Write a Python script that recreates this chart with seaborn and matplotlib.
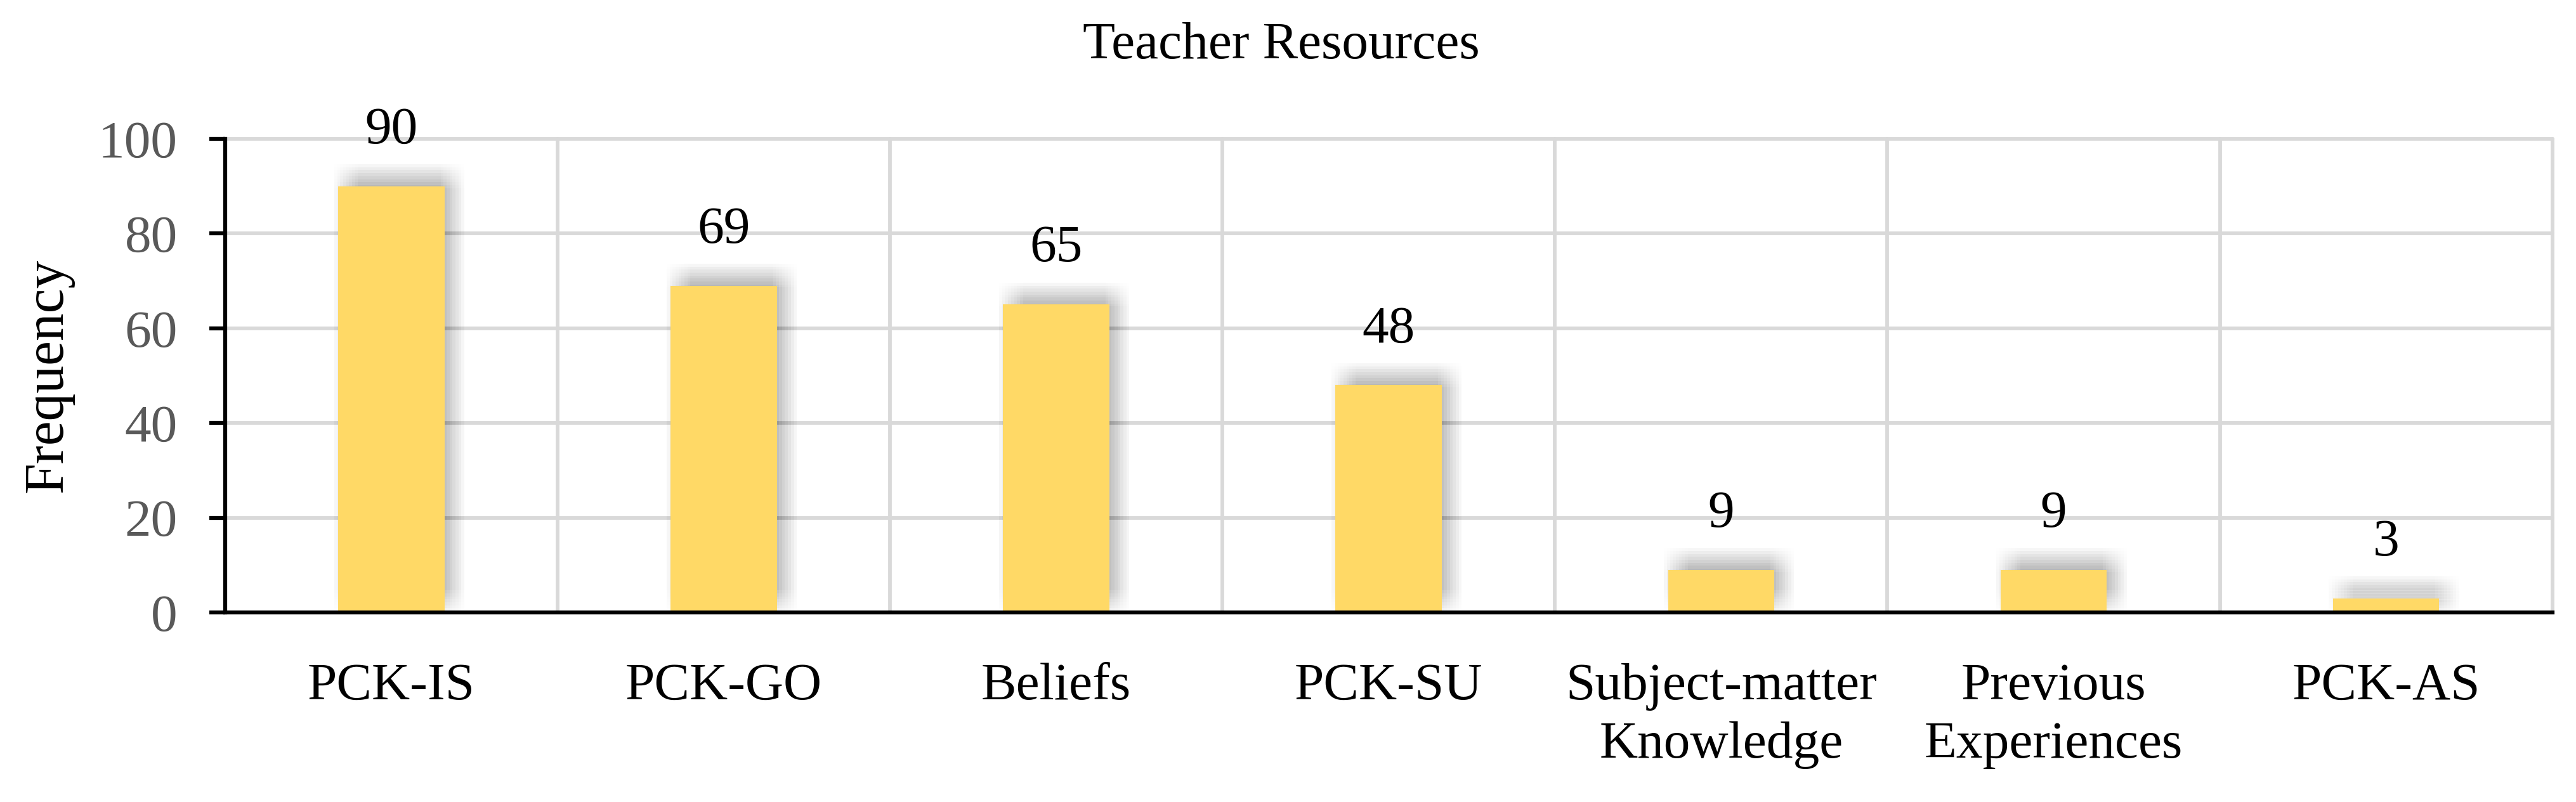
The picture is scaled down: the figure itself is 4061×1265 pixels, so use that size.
# -*- coding: utf-8 -*-
"""
Teacher Resources: frequency of each resource category (bar chart with soft shadow).
"""

import numpy as np
import seaborn as sns
import matplotlib
matplotlib.use("Agg")
import matplotlib.pyplot as plt
import matplotlib.patheffects as pe

# data
categories = ["PCK-IS", "PCK-GO", "Beliefs", "PCK-SU",
              "Subject-matter\nKnowledge", "Previous\nExperiences", "PCK-AS"]
frequency = [90, 69, 65, 48, 9, 9, 3]
y_ticks = [0, 20, 40, 60, 80, 100]
title = "Teacher Resources"
y_label = "Frequency"

BAR_COLOR = "#FFD966"
SHADOW_COLOR = "#856c21"
GRID_COLOR = "#D9D9D9"
TICK_COLOR = "#595959"


def shadow_effects(dx=3.0, dy=3.8, radius=4.5, n=9, alpha=0.0053):
    """Fake a blurred drop shadow with a grid of offset copies."""
    effects = []
    for ox in np.linspace(-radius, radius, n):
        for oy in np.linspace(-radius, radius, n):
            effects.append(pe.SimplePatchShadow(offset=(dx + ox, dy + oy),
                                                shadow_rgbFace=SHADOW_COLOR,
                                                alpha=alpha))
    effects.append(pe.Normal())
    return effects


def plot_teacher_resources(save_path="out.png"):
    sns.set_theme(style="white")
    plt.rcParams["font.family"] = ["Liberation Serif", "DejaVu Serif"]

    fig = plt.figure(figsize=(4061 / 300, 1265 / 300), dpi=300)
    ax = fig.add_axes([0.0874, 0.2364, 0.9034, 0.5905])

    sns.barplot(x=categories, y=frequency, color=BAR_COLOR, width=0.32,
                saturation=1, edgecolor="none", ax=ax, zorder=3)
    for bar in ax.patches:
        bar.set_path_effects(shadow_effects())

    ax.bar_label(ax.containers[0], labels=[str(v) for v in frequency],
                 padding=12, fontsize=20, color="black")

    ax.set_xlim(-0.5, len(categories) - 0.5)
    ax.set_ylim(0, 100)
    ax.set_yticks(y_ticks)
    ax.set_xticks(np.arange(-0.5, len(categories), 1), minor=True)

    # gridlines: horizontal at ticks, vertical at category boundaries
    ax.grid(axis="y", which="major", color=GRID_COLOR, linewidth=1.4, zorder=0)
    ax.grid(axis="x", which="minor", color=GRID_COLOR, linewidth=1.4, zorder=0)
    ax.grid(axis="x", which="major", visible=False)
    ax.set_axisbelow(True)
    grid_lines = list(ax.yaxis.get_gridlines())
    grid_lines += [t.gridline for t in ax.xaxis.get_minor_ticks()]
    for line in grid_lines:
        line.set_clip_on(False)

    for side in ["top", "right"]:
        ax.spines[side].set_visible(False)
    for side in ["left", "bottom"]:
        ax.spines[side].set_color("black")
        ax.spines[side].set_linewidth(1.5)
        ax.spines[side].set_zorder(5)

    ax.tick_params(axis="y", which="major", left=True, length=6, width=1.5,
                   color="black", pad=12, labelsize=20, labelcolor=TICK_COLOR)
    ax.tick_params(axis="x", which="both", bottom=False, length=0, pad=19,
                   labelsize=20, labelcolor="black")
    ax.set_xticklabels(categories, linespacing=1.3)

    ax.set_ylabel(y_label, fontsize=21, color="black")
    ax.yaxis.set_label_coords(-0.065, 0.5)
    fig.text(0.4975, 0.943, title, ha="center", va="center", fontsize=20,
             color="black")

    fig.savefig(save_path, dpi=300)
    plt.close(fig)
    print(f"Saved: {save_path}")


if __name__ == "__main__":
    plot_teacher_resources()
